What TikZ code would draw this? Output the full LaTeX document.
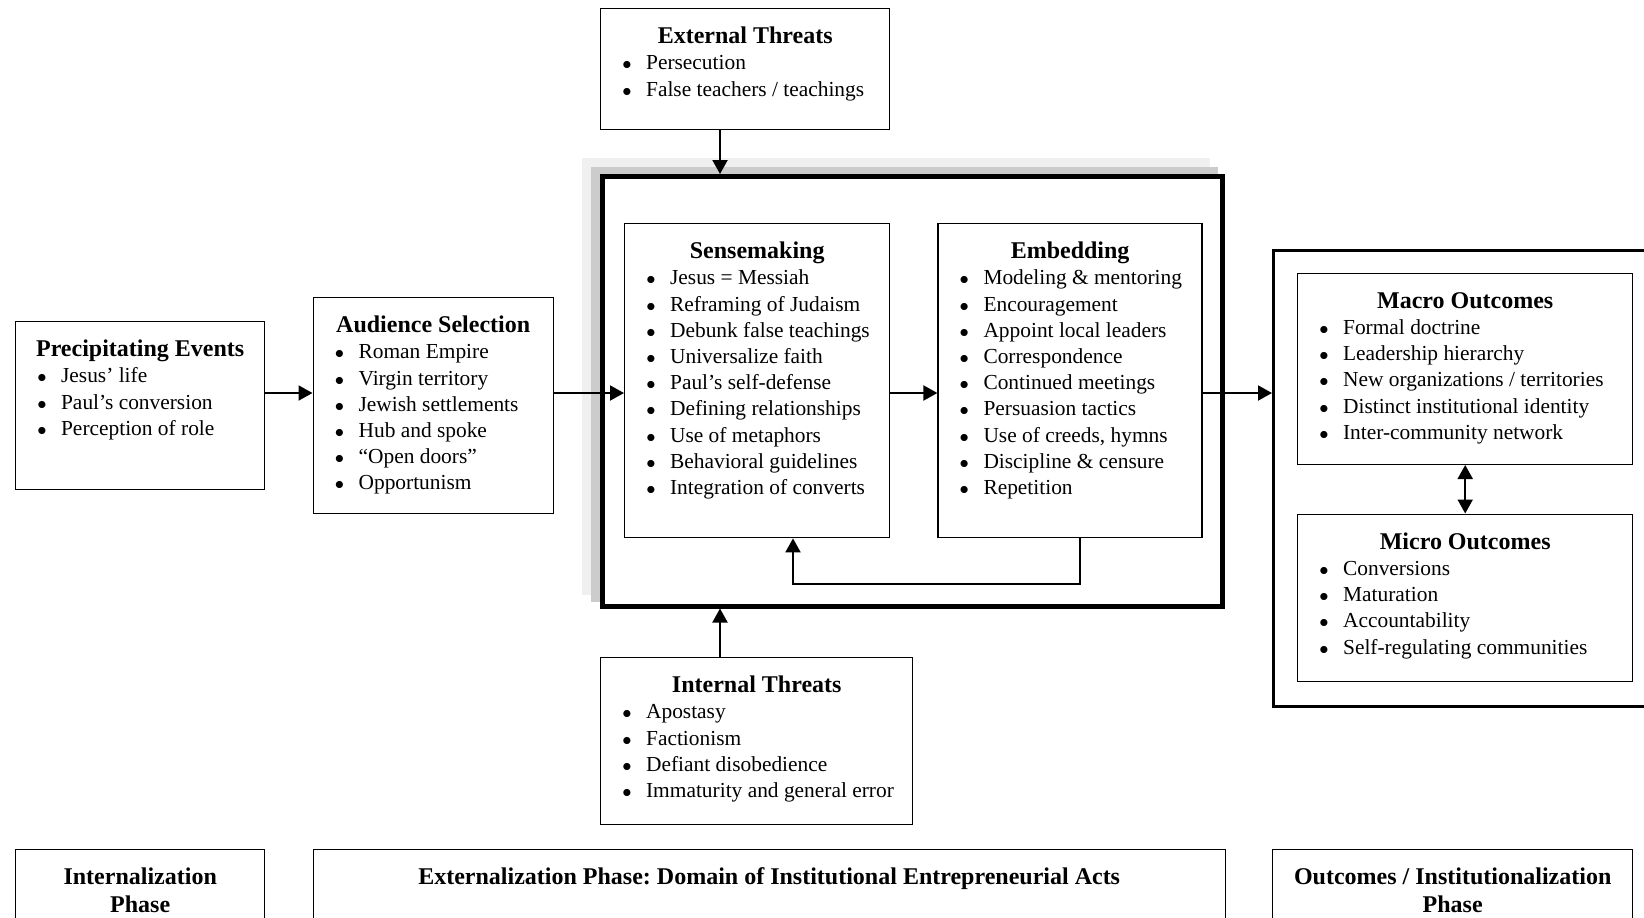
\documentclass[tikz,border=0pt]{standalone}
\usepackage{fontspec}
\setmainfont{Liberation Serif}
\usetikzlibrary{arrows.meta,positioning}
\frenchspacing

\newlength{\px}
\setlength{\px}{0.5pt}
\newcommand{\btitle}[1]{{\centering\fontsize{12}{13.1}\selectfont\bfseries\rule{0pt}{17.5pt}#1\par}}
\newcommand{\bitem}[1]{\par\noindent\hspace*{10.8pt}\makebox[11.9pt][l]{\fontsize{9}{9}\selectfont$\bullet$}#1}
\newcommand{\boxbody}[3]{\parbox[t][#2\px][t]{#1\px}{\fontsize{10.7}{13.1}\selectfont #3}}

\begin{document}
\begin{tikzpicture}[
                x=0.5pt, y=-0.5pt,
                every node/.append style={inner sep=0pt},
                box/.style={draw, line width=0.7pt, fill=white, anchor=north west},
                domainbox/.style={draw, line width=2.5pt, fill=white, anchor=north west,
                    minimum width=310pt, minimum height=214.75pt},
                outbox/.style={draw, line width=1.6pt, anchor=north west},
                arr/.style={line width=1pt, -{Triangle[length=7pt,width=7.5pt]}},
                dblarr/.style={line width=1pt, {Triangle[length=7pt,width=7.5pt]}-{Triangle[length=7pt,width=7.5pt]}}
            ]
                \useasboundingbox (0,0) rectangle (1644,917);
                \clip (0,0) rectangle (1644,917);

                % shadow of the domain frame
                \fill[gray!12] (582,158) rectangle (1210,595);
                \fill[gray!40] (591,167) rectangle (1218,602);
                \node[domainbox] (domain) at (600,174) {};

                \node[box] (ext) at (600,8)
                    {\boxbody{289}{121}{\btitle{External Threats}
                        \bitem{Persecution}\bitem{False teachers / teachings}}};
                \node[box] (pre) at (15,321)
                    {\boxbody{249}{168}{\btitle{Precipitating Events}
                        \bitem{Jesus’ life}\bitem{Paul’s conversion}\bitem{Perception of role}}};
                \node[box] (aud) at (312.5,297)
                    {\boxbody{240}{216}{\btitle{Audience Selection}
                        \bitem{Roman Empire}\bitem{Virgin territory}\bitem{Jewish settlements}
                        \bitem{Hub and spoke}\bitem{“Open doors”}\bitem{Opportunism}}};
                \node[box] (sense) at (624,223)
                    {\boxbody{265}{314}{\btitle{Sensemaking}
                        \bitem{Jesus = Messiah}\bitem{Reframing of Judaism}\bitem{Debunk false teachings}
                        \bitem{Universalize faith}\bitem{Paul’s self-defense}\bitem{Defining relationships}
                        \bitem{Use of metaphors}\bitem{Behavioral guidelines}\bitem{Integration of converts}}};
                \node[box, right=23.5pt of sense] (embed)
                    {\boxbody{264}{314}{\btitle{Embedding}
                        \bitem{Modeling \& mentoring}\bitem{Encouragement}\bitem{Appoint local leaders}
                        \bitem{Correspondence}\bitem{Continued meetings}\bitem{Persuasion tactics}
                        \bitem{Use of creeds, hymns}\bitem{Discipline \& censure}\bitem{Repetition}}};
                \node[box] (int) at (600,657)
                    {\boxbody{312}{167}{\btitle{Internal Threats}
                        \bitem{Apostasy}\bitem{Factionism}\bitem{Defiant disobedience}
                        \bitem{Immaturity and general error}}};

                \node[outbox, minimum width=200pt, minimum height=228pt] (outc) at (1272,248.5) {};
                \node[box] (macro) at (1297,272.6)
                    {\boxbody{335}{191}{\btitle{Macro Outcomes}
                        \bitem{Formal doctrine}\bitem{Leadership hierarchy}\bitem{New organizations / territories}
                        \bitem{Distinct institutional identity}\bitem{Inter-community network}}};
                \node[box, below=24.25pt of macro] (micro)
                    {\boxbody{335}{167}{\btitle{Micro Outcomes}
                        \bitem{Conversions}\bitem{Maturation}\bitem{Accountability}
                        \bitem{Self-regulating communities}}};

                % phase labels along the bottom
                \node[box] (phaseA) at (15,849)
                    {\boxbody{249}{120}{\btitle{Internalization\\[1pt]Phase}}};
                \node[box] (phaseB) at (312.5,849)
                    {\boxbody{912}{120}{\btitle{Externalization Phase: Domain of Institutional Entrepreneurial Acts}}};
                \node[box] (phaseC) at (1272,849)
                    {\boxbody{360}{120}{\btitle{Outcomes / Institutionalization\\[1pt]Phase}}};

                \coordinate (axis)  at (0,393);
                \coordinate (vaxis) at (720,0);
                \coordinate (loopR) at (1080,584);
                \coordinate (loopL) at (793,584);

                \draw[arr] (pre.east |- axis)   -- (aud.west |- axis);
                \draw[arr] (aud.east |- axis)   -- (sense.west |- axis);
                \draw[arr] (sense.east |- axis) -- (embed.west |- axis);
                \draw[arr] (embed.east |- axis) -- (outc.west |- axis);
                \draw[arr] (ext.south -| vaxis) -- (domain.north -| vaxis);
                \draw[arr] (int.north -| vaxis) -- (domain.south -| vaxis);
                \draw[arr] (embed.south -| loopR) -- (loopR) -- (loopL) -- (sense.south -| loopL);
                \draw[dblarr] (macro.south) -- (micro.north);
            \end{tikzpicture}
\end{document}
